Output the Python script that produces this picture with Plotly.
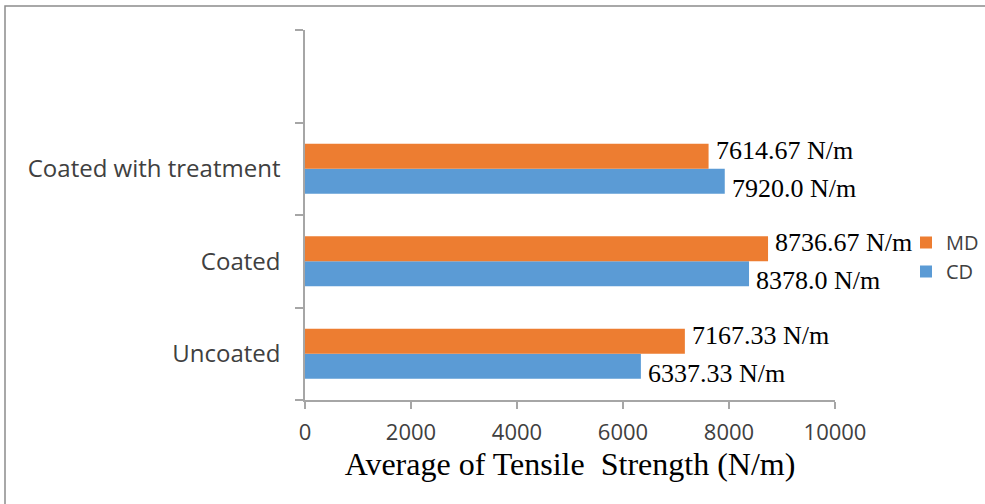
import plotly.graph_objects as go

# Sample groups (bottom to top) and measured tensile strength in N/m
categories = ["Uncoated", "Coated", "Coated with treatment"]
cd_values = [6337.33, 8378.0, 7920.0]
md_values = [7167.33, 8736.67, 7614.67]
x_ticks = [0, 2000, 4000, 6000, 8000, 10000]

W, H = 985, 504
L, R, T, B = 305, 150, 30, 104
BARGAP = 0.46

BLUE = "#5B9BD5"
ORANGE = "#ED7D31"
AXIS_GREY = "#A6A6A6"
SANS = "Open Sans, Noto Sans, sans-serif"
SERIF = "Liberation Serif, Times New Roman, serif"
LABEL_FONT = dict(family=SERIF, size=26, color="#000000")

pw, ph = W - L - R, H - T - B
n_slots = len(categories) + 1           # one empty slot above the data
slot_px = ph / n_slots
bar_px = slot_px * (1 - BARGAP) / 2     # thickness of a single bar


def value_label(v):
    return f"{v} N/m"


fig = go.Figure()
fig.add_trace(go.Bar(
    name="CD", y=categories, x=cd_values, orientation="h",
    marker=dict(color=BLUE, line=dict(width=0)),
    legendgroup="cd",
))
fig.add_trace(go.Bar(
    name="MD", y=categories, x=md_values, orientation="h",
    marker=dict(color=ORANGE, line=dict(width=0)),
    legendgroup="md",
))

# value labels next to the bar ends, MD nudged up and CD nudged down
for cat, md, cd in zip(categories, md_values, cd_values):
    fig.add_annotation(
        x=md, y=cat, xref="x", yref="y", text=value_label(md),
        showarrow=False, xanchor="left", yanchor="middle",
        xshift=5, yshift=bar_px / 2 + 6, font=LABEL_FONT,
    )
    fig.add_annotation(
        x=cd, y=cat, xref="x", yref="y", text=value_label(cd),
        showarrow=False, xanchor="left", yanchor="middle",
        xshift=5, yshift=-(bar_px / 2 + 7), font=LABEL_FONT,
    )

# outer frame around the whole chart, expressed in paper units
fig.add_shape(
    type="rect", xref="paper", yref="paper", layer="below",
    x0=(5 - L) / pw, x1=(W + 5 - L) / pw,
    y0=1 - (H + 5 - T) / ph, y1=1 - (6 - T) / ph,
    line=dict(color="#8C8C8C", width=1.5), fillcolor="rgba(0,0,0,0)",
)

fig.update_layout(
    width=W, height=H,
    margin=dict(l=L, r=R, t=T, b=B, pad=0, autoexpand=False),
    paper_bgcolor="white", plot_bgcolor="white",
    barmode="group", bargap=BARGAP, bargroupgap=0,
    showlegend=True,
    legend=dict(
        x=(906 - L) / pw, xanchor="left",
        y=1 - (257 - T) / ph, yanchor="middle",
        traceorder="reversed", tracegroupgap=29,
        font=dict(family=SANS, size=20, color="#404040"),
        bgcolor="rgba(0,0,0,0)",
    ),
    font=dict(family=SANS, color="#404040"),
)

fig.update_xaxes(
    range=[0, 10000], tickvals=x_ticks, ticktext=[str(t) for t in x_ticks],
    showgrid=False, zeroline=False,
    showline=True, linecolor=AXIS_GREY, linewidth=1.5,
    ticks="outside", ticklen=7, tickcolor=AXIS_GREY, tickwidth=1.5,
    tickfont=dict(family=SANS, size=22, color="#404040"),
    ticklabelstandoff=5,
    title=dict(
        text="Average of Tensile  Strength (N/m)",
        font=dict(family=SERIF, size=32, color="#000000"),
        standoff=3,
    ),
)

fig.update_yaxes(
    type="category", categoryorder="array", categoryarray=categories + [" "],
    range=[-0.5, n_slots - 0.5],
    showgrid=False, zeroline=False,
    showline=True, linecolor=AXIS_GREY, linewidth=1.5,
    ticks="outside", tickson="boundaries", ticklen=8,
    tickcolor=AXIS_GREY, tickwidth=1.5,
    tickfont=dict(family=SANS, size=24, color="#404040"),
    ticklabelstandoff=18,
)

fig.write_html("out.html")
